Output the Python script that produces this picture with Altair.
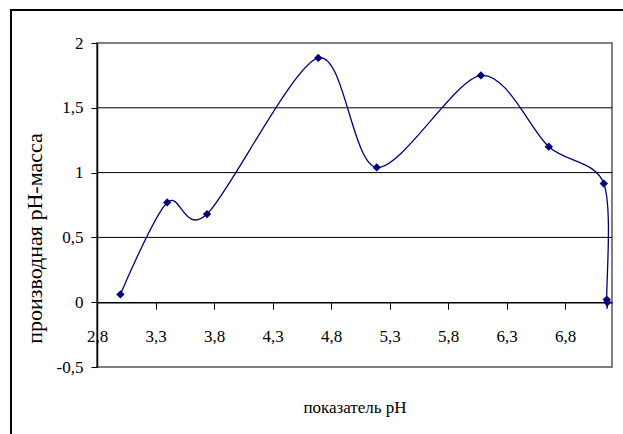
import altair as alt
import pandas as pd

# data
ph = [3.0, 3.40, 3.74, 4.69, 5.19, 6.08, 6.66, 7.13, 7.155, 7.16]
deriv = [0.06, 0.77, 0.68, 1.885, 1.04, 1.75, 1.2, 0.915, 0.02, 0.0]
x_ticks = [2.8, 3.3, 3.8, 4.3, 4.8, 5.3, 5.8, 6.3, 6.8]
y_ticks = [-0.5, 0, 0.5, 1, 1.5, 2]
grid_vals = [0.5, 1, 1.5]

df = pd.DataFrame({"order": list(range(len(ph))), "ph": ph, "d": deriv})
grid_df = pd.DataFrame({"g": grid_vals})
one = pd.DataFrame({"k": [0]})

FONT = "Liberation Serif, DejaVu Serif, serif"
NAVY = "#000080"
X_TITLE = "показатель pH"
Y_TITLE = "производная pH-масса"

xscale = alt.Scale(domain=[2.8, 7.2], nice=False, zero=False)
yscale = alt.Scale(domain=[-0.5, 2], nice=False, zero=False)
label_expr = "replace(datum.value + '', '.', ',')"

x_axis = alt.Axis(
    values=x_ticks, labelExpr=label_expr, offset=-64.8, grid=False,
    domainColor="black", domainWidth=1.5, tickColor="black", tickSize=7, tickWidth=1,
    labelFont=FONT, labelFontSize=17, labelColor="black", labelPadding=19,
    labelFlush=False, labelOverlap=False,
    titleFont=FONT, titleFontSize=17, titleFontWeight="normal", titleColor="black",
    titleX=257.5, titleY=110, titleBaseline="alphabetic", titleAlign="center",
)
y_axis = alt.Axis(
    values=y_ticks, labelExpr=label_expr, grid=False,
    domainColor="black", domainWidth=1.5, tickColor="black", tickSize=6, tickWidth=1,
    labelFont=FONT, labelFontSize=17, labelColor="black", labelPadding=8,
    labelOverlap=False,
    titleFont=FONT, titleFontSize=22, titleFontWeight="normal", titleColor="black",
    titleX=-56, titleY=195, titleBaseline="alphabetic", titleAlign="center",
)

grid = alt.Chart(grid_df).mark_rule(color="black", strokeWidth=1).encode(
    y=alt.Y("g:Q", scale=yscale, axis=y_axis, title=Y_TITLE)
)

line = alt.Chart(df).mark_line(
    color=NAVY, strokeWidth=1.3, interpolate="cardinal", tension=0.1
).encode(
    x=alt.X("ph:Q", scale=xscale, axis=x_axis, title=X_TITLE),
    y=alt.Y("d:Q", scale=yscale, axis=y_axis, title=Y_TITLE),
    order=alt.Order("order:Q"),
)

points = alt.Chart(df).mark_point(
    shape="diamond", filled=True, size=70, color=NAVY, opacity=1
).encode(
    x=alt.X("ph:Q", scale=xscale, axis=x_axis, title=X_TITLE),
    y=alt.Y("d:Q", scale=yscale, axis=y_axis, title=Y_TITLE),
)

frame_left = alt.Chart(one).mark_rule(color="black", strokeWidth=2).encode(
    x=alt.value(-86), y=alt.value(-33), y2=alt.value(400)
)
frame_top = alt.Chart(one).mark_rule(color="black", strokeWidth=2).encode(
    x=alt.value(-87), x2=alt.value(540), y=alt.value(-33)
)

chart = alt.layer(grid, line, points, frame_left, frame_top).properties(
    width=515, height=324,
    autosize=alt.AutoSizeParams(type="none"),
    padding={"left": 97, "top": 43, "right": 11, "bottom": 67},
    background="white",
).configure(font=FONT).configure_axis(
    labelFont=FONT, titleFont=FONT
).configure_view(stroke="#808080", strokeWidth=2)

chart.save("out.html", embed_options={"renderer": "svg", "actions": False})
